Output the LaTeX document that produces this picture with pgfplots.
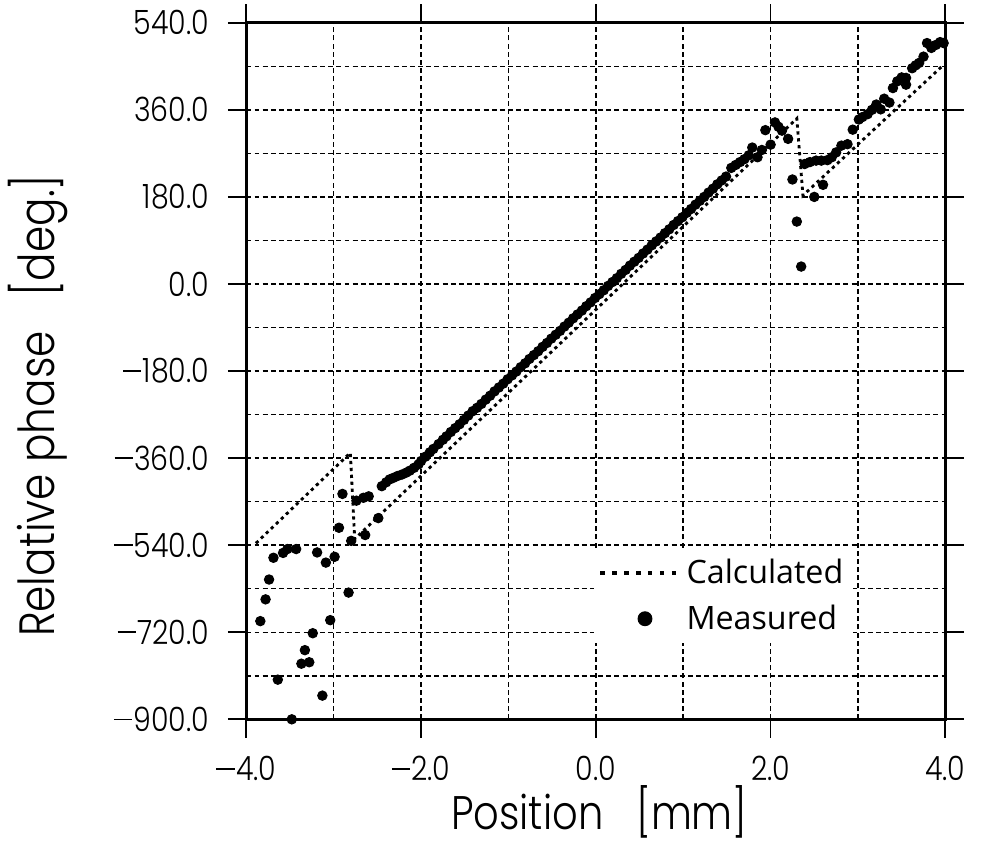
\documentclass[border=0pt]{standalone}
\usepackage{pgfplots}
\pgfplotsset{compat=1.18}
\usepackage{fontspec}
\setmainfont{Poppins}[UprightFont=* Light]
\newfontfamily\thinfont{Poppins}[UprightFont=* Light, FakeStretch=0.85]
\newfontfamily\legfont{Open Sans}
\newcommand\mn{\rule[0.33em]{0.55em}{0.055em}\hspace{0.04em}}

\pgfplotstableread{
x y
-3.84 -697
-3.78 -652
-3.74 -611
-3.69 -566
-3.64 -818
-3.58 -556
-3.53 -548
-3.48 -900
-3.43 -548
-3.37 -785
-3.33 -757
-3.28 -782
-3.24 -722
-3.19 -555
-3.13 -851
-3.09 -576
-3.04 -695
-2.99 -564
-2.94 -504
-2.90 -434
-2.83 -638
-2.80 -531
-2.74 -448
-2.66 -442
-2.60 -439
-2.64 -519
-2.49 -484
-2.45 -418
-2.40 -410
-2.36 -404
-2.32 -401
-2.27 -397
-2.22 -394
-2.17 -390
-2.13 -386
-2.08 -380
-2.03 -373
-2.00 -366
-1.95 -357
-1.90 -348
-1.86 -341
-1.80 -331
-1.75 -322
-1.71 -315
-1.66 -306
-1.61 -298
-1.56 -290
-1.51 -281
-1.46 -272
-1.41 -263
-1.36 -256
-1.31 -248
-1.26 -239
-1.21 -231
-1.16 -222
-1.11 -214
-1.06 -206
-1.01 -197
-0.96 -189
-0.91 -181
-0.86 -172
-0.81 -164
-0.76 -155
-0.71 -147
-0.66 -139
-0.61 -130
-0.56 -122
-0.51 -113
-0.46 -105
-0.41 -97
-0.36 -88
-0.31 -80
-0.26 -71
-0.21 -63
-0.16 -55
-0.11 -46
-0.06 -38
-0.01 -29
0.04 -21
0.09 -13
0.14 -4
0.19 4
0.24 12
0.29 21
0.34 29
0.39 38
0.44 46
0.49 54
0.54 63
0.59 71
0.64 80
0.69 88
0.74 96
0.79 105
0.84 113
0.89 122
0.94 130
0.99 138
1.04 147
1.09 155
1.14 164
1.19 172
1.24 180
1.29 189
1.34 197
1.39 206
1.44 214
1.49 222
1.55 240
1.60 246
1.65 252
1.70 258
1.75 266
1.79 282
1.85 262
1.90 277
1.94 318
2.00 288
2.05 334
2.09 325
2.13 317
2.20 300
2.25 216
2.30 129
2.35 36
2.39 248
2.45 252
2.52 255
2.50 180
2.58 255
2.60 205
2.65 256
2.70 262
2.75 272
2.81 286
2.88 289
2.94 319
3.01 340
3.05 345
3.11 351
3.16 360
3.21 371
3.26 361
3.30 383
3.36 375
3.40 405
3.45 419
3.50 427
3.55 412
3.55 426
3.62 446
3.66 452
3.70 457
3.75 470
3.79 498
3.84 488
3.89 494
3.94 500
3.98 498
}\measured

\pgfplotstableread{
x y
-3.89 -536
-2.81 -349
-2.76 -527
2.30 342
2.37 183
3.98 453
}\calculated

\begin{document}
\begin{tikzpicture}
\begin{axis}[
  scale only axis,
  width=282pt, height=281pt,
  xmin=-4, xmax=4, ymin=-900, ymax=540,
  xtick={-4,-2,0,2,4},
  xticklabels={\mn4.0,\mn2.0,0.0,2.0,4.0},
  minor xtick={-3,-1,1,3},
  ytick={-900,-720,-540,-360,-180,0,180,360,540},
  yticklabels={\mn900.0,\mn720.0,\mn540.0,\mn360.0,\mn180.0,0.0,180.0,360.0,540.0},
  minor ytick={-810,-630,-450,-270,-90,90,270,450},
  grid=both,
  major grid style={black, line width=0.6pt, dash pattern=on 2pt off 1.3pt},
  minor grid style={black, line width=0.6pt, dash pattern=on 2pt off 1.3pt},
  tick align=outside,
  major tick length=7.5pt,
  minor tick length=0pt,
  tick style={black, line width=0.7pt},
  axis line style={line width=1.1pt},
  ticklabel style={font=\thinfont\fontsize{13.5}{15}\selectfont},
  yticklabel shift=4pt,
  xticklabel shift=4pt,
  xlabel={Position\hspace{0.7em}[mm]},
  ylabel={Relative phase\hspace{0.7em}[deg.]},
  xlabel style={font=\thinfont\fontsize{19}{21}\selectfont, at={(axis description cs:0.505,-0.133)}, anchor=center},
  ylabel style={font=\thinfont\fontsize{20}{22}\selectfont, at={(axis description cs:-0.298,0.45)}, anchor=center},
  clip=false,
  legend style={at={(0.496,0.245)}, anchor=north west, draw=none, fill=white,
    font=\legfont\fontsize{13}{15}\selectfont, row sep=3pt, inner sep=2pt},
  legend cell align=left,
]
\path (rel axis cs:-0.340,-0.189) rectangle (rel axis cs:1.0567,1.0327);
\addplot[black, line width=1.15pt, dash pattern=on 1.3pt off 1.5pt,
  legend image code/.code={\draw[black, line width=1.5pt, dash pattern=on 1.8pt off 3pt] (0pt,0pt) -- (32pt,0pt);}]
  table[x=x,y=y] {\calculated};
\addlegendentry{Calculated}
\addplot[only marks, mark=*, mark size=1.9pt, black,
  legend image code/.code={\fill[black] (18pt,0pt) circle (2.8pt);}]
  table[x=x,y=y] {\measured};
\addlegendentry{Measured}
\end{axis}
\end{tikzpicture}
\end{document}
